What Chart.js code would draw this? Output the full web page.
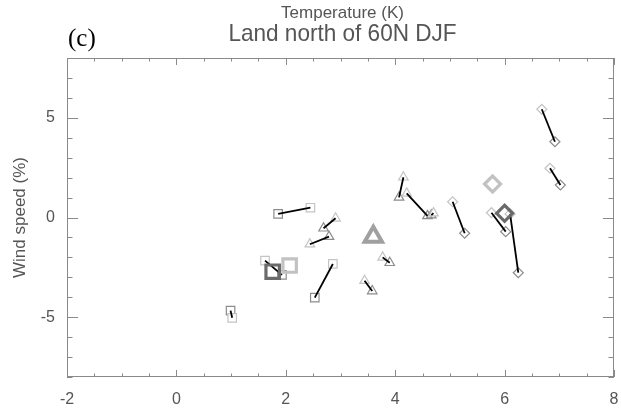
<!DOCTYPE html>
<html><head><meta charset="utf-8">
<script src="https://cdn.jsdelivr.net/npm/chart.js@4"></script>
<style>html,body{margin:0;padding:0;background:#fff}#wrap{width:621px;height:411px;position:relative}</style>
</head><body><div id="wrap"><canvas id="c"></canvas></div>
<script>
// ---- data ----
const pairGroup = ['square','square','square','square','triangle','triangle','triangle','triangle','triangle','triangle','triangle','diamond','diamond','diamond','diamond','diamond'];
const xA = [2.45, 1.62, 2.86, 1.02, 2.91, 2.44, 3.44, 3.77, 4.15, 4.21, 4.70, 5.05, 5.76, 6.10, 6.68, 6.83];
const yA = [0.49, -2.16, -2.33, -5.03, -0.04, -1.34, -3.17, -2.00, 2.02, 1.21, 0.22, 0.79, 0.24, 0.18, 5.43, 2.47];
const xB = [1.86, 1.93, 2.53, 0.99, 2.69, 2.79, 3.58, 3.90, 4.07, 4.59, 4.66, 5.27, 6.02, 6.25, 6.92, 7.02];
const yB = [0.18, -2.88, -4.02, -4.67, -0.54, -0.96, -3.69, -2.27, 1.01, 0.08, 0.12, -0.79, -0.71, -2.77, 3.80, 1.63];
const bigGroup = ['square','square','triangle','diamond','diamond'];
const bigShade = ['light','dark','mid','light','dark'];
const bigX = [2.07, 1.76, 3.60, 5.78, 6.00];
const bigY = [-2.41, -2.72, -0.96, 1.68, 0.21];
const xTicks = [-2, 0, 2, 4, 6, 8];
const yTicks = [-5, 0, 5];
const xMinorStep = 0.5;
const yMinorStep = 1;

// ---- styles ----
const shapeStyle = {square:'rect', triangle:'triangle', diamond:'rectRot'};
const smallRadius = {square:6, triangle:5.5, diamond:5};
const bigRadius = {square:9.5, triangle:10, diamond:8};
const shadeColor = {light:'#c2c2c2', mid:'#a0a0a0', dark:'#6a6a6a'};
const colA = '#c4c4c4', colB = '#8c8c8c';
const textCol = '#555';
const fontFam = '"Liberation Sans", Arial, sans-serif';

const datasets = [];
datasets.push({
  label:'means', order:0,
  data: bigX.map((x,i)=>({x, y:bigY[i]})),
  pointStyle: bigGroup.map(g=>shapeStyle[g]),
  pointRadius: bigGroup.map(g=>bigRadius[g]),
  borderColor: bigShade.map(s=>shadeColor[s]),
  backgroundColor: 'rgba(0,0,0,0)',
  pointBorderWidth: bigGroup.map(g=>g==='triangle'?4:3.2),
  showLine:false
});
xA.forEach((x,i)=>{
  datasets.push({
    label:'pair'+i, order:1,
    data:[{x, y:yA[i]},{x:xB[i], y:yB[i]}],
    showLine:true, borderColor:'#000', borderWidth:1.8,
    pointRadius:0, fill:false
  });
});
datasets.push({
  label:'A', order:2,
  data: xA.map((x,i)=>({x, y:yA[i]})),
  pointStyle: pairGroup.map(g=>shapeStyle[g]),
  pointRadius: pairGroup.map(g=>smallRadius[g]),
  borderColor: colA, backgroundColor:'#fff', pointBorderWidth:1.2, showLine:false
});
datasets.push({
  label:'B', order:2,
  data: xB.map((x,i)=>({x, y:yB[i]})),
  pointStyle: pairGroup.map(g=>shapeStyle[g]),
  pointRadius: pairGroup.map(g=>smallRadius[g]),
  borderColor: colB, backgroundColor:'rgba(255,255,255,0)', pointBorderWidth:1.2, showLine:false
});

const frame = {
  id:'frame',
  beforeDatasetsDraw(chart){
    const {ctx, chartArea:a, scales:{x, y}} = chart;
    ctx.save();
    ctx.strokeStyle = '#8a8a8a'; ctx.lineWidth = 1;
    ctx.strokeRect(Math.round(a.left)+0.5, Math.round(a.top)+0.5, Math.round(a.width)-1, Math.round(a.height)-1);
    ctx.beginPath();
    const xMaj = 7, xMin = 3.5, yMaj = 11, yMin = 5.5;
    for (let v = x.min; v <= x.max + 1e-9; v += xMinorStep) {
      const px = Math.round(x.getPixelForValue(v)) + 0.5;
      const major = xTicks.some(t=>Math.abs(t-v)<1e-9);
      const L = major ? xMaj : xMin;
      ctx.moveTo(px, a.bottom); ctx.lineTo(px, a.bottom - L);
      ctx.moveTo(px, a.top); ctx.lineTo(px, a.top + L);
    }
    for (let v = y.min; v <= y.max + 1e-9; v += yMinorStep) {
      const py = Math.round(y.getPixelForValue(v)) + 0.5;
      const major = yTicks.some(t=>Math.abs(t-v)<1e-9);
      const L = major ? yMaj : yMin;
      ctx.moveTo(a.left, py); ctx.lineTo(a.left + L, py);
      ctx.moveTo(a.right, py); ctx.lineTo(a.right - L, py);
    }
    ctx.stroke();
    ctx.restore();
  },
  afterDraw(chart){
    const {ctx, chartArea:a} = chart;
    const cx = (a.left + a.right)/2 + 2;
    ctx.save();
    ctx.fillStyle = textCol; ctx.textAlign = 'center'; ctx.textBaseline = 'alphabetic';
    ctx.font = '17px ' + fontFam;
    ctx.fillText('Temperature (K)', cx, 18);
    ctx.save();
    ctx.translate(cx, 41); ctx.scale(0.94, 1);
    ctx.font = '24px ' + fontFam;
    ctx.fillText('Land north of 60N DJF', 0, 0);
    ctx.restore();
    ctx.fillStyle = '#000'; ctx.textAlign = 'left';
    ctx.font = '25px "Liberation Serif", "Times New Roman", serif';
    ctx.fillText('(c)', 68, 46);
    ctx.restore();
  }
};

new Chart(document.getElementById('c'), {
  type:'scatter',
  data:{datasets},
  options:{
    responsive:true, maintainAspectRatio:false, animation:false,
    layout:{autoPadding:false, padding:{left:0, right:7, top:58, bottom:0}},
    plugins:{legend:{display:false}, tooltip:{enabled:false}, title:{display:false}},
    scales:{
      x:{
        type:'linear', min:-2, max:8,
        afterBuildTicks:s=>{ s.ticks = xTicks.map(v=>({value:v})); },
        afterFit:s=>{ s.height = 34; s.paddingLeft = 0; s.paddingRight = 0; },
        grid:{display:false, drawTicks:false}, border:{display:false},
        ticks:{color:textCol, font:{size:16, family:fontFam}, padding:13, maxRotation:0, autoSkip:false}
      },
      y:{
        type:'linear', min:-8, max:8,
        afterBuildTicks:s=>{ s.ticks = yTicks.map(v=>({value:v})); },
        afterFit:s=>{ s.width = 67; s.paddingTop = 0; s.paddingBottom = 0; },
        grid:{display:false, drawTicks:false}, border:{display:false},
        ticks:{color:textCol, font:{size:16, family:fontFam}, padding:12, autoSkip:false},
        title:{display:true, text:'Wind speed (%)', color:textCol, font:{size:17, family:fontFam}, padding:{top:10, bottom:0}}
      }
    }
  },
  plugins:[frame]
});
</script></body></html>
